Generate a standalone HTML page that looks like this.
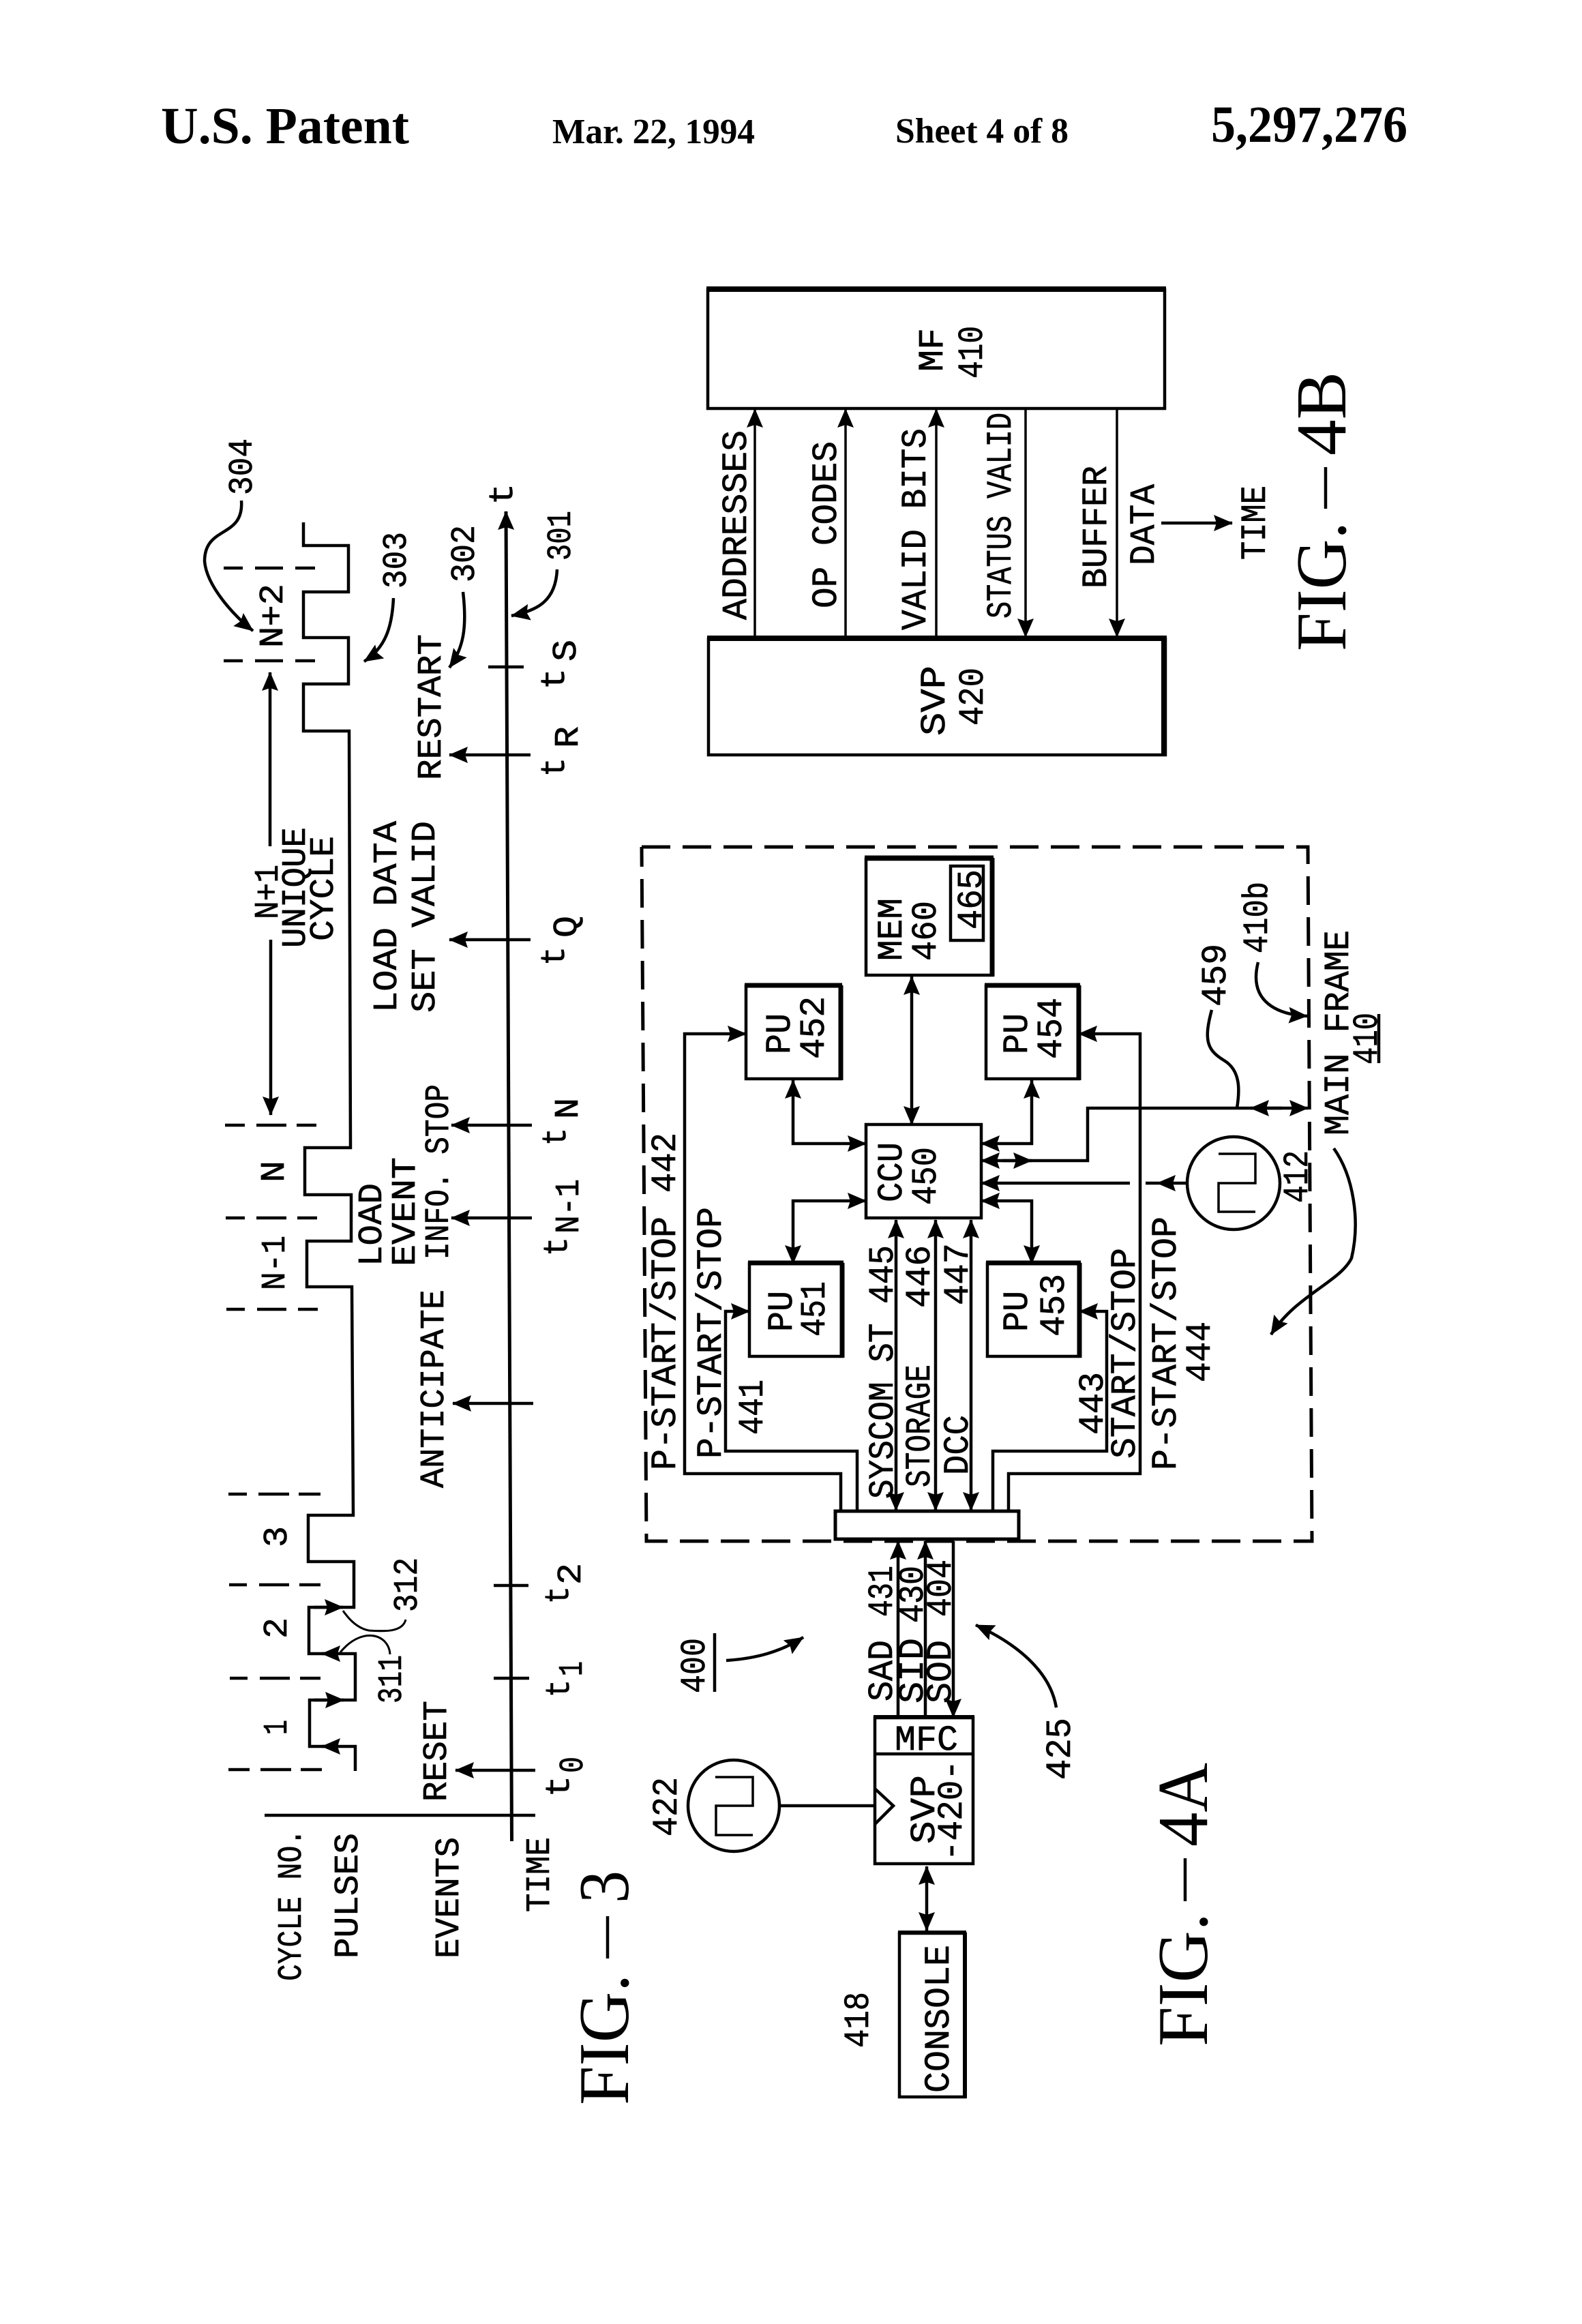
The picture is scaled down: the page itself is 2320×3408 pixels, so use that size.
<!DOCTYPE html>
<html><head><meta charset="utf-8"><style>
html,body{margin:0;padding:0;background:#fff}
svg{display:block}
text{font-family:"Liberation Mono",monospace;fill:#000;stroke:#000;stroke-width:.7}
text.h{font-family:"Liberation Serif",serif;font-weight:bold;stroke:none}
text.f{font-family:"Liberation Serif",serif;stroke:none}
.l{fill:none;stroke:#000;stroke-width:4.5}
.a{fill:none;stroke:#000;stroke-width:4.5;marker-end:url(#m)}
.d{fill:none;stroke:#000;stroke-width:4.5;marker-end:url(#m);marker-start:url(#m)}
.b{fill:#fff;stroke:#000;stroke-width:4.5}
</style></head><body>
<svg xmlns="http://www.w3.org/2000/svg" width="2320" height="3408" viewBox="0 0 2320 3408">
<defs><marker id="m" markerUnits="userSpaceOnUse" viewBox="0 0 28 24" refX="27" refY="12" markerWidth="28" markerHeight="24" orient="auto-start-reverse"><path d="M0 0L28 12L0 24L4 12Z" fill="#000"/></marker></defs>
<rect width="2320" height="3408" fill="#fff"/>

<!-- header -->
<text class="h" x="236" y="210" font-size="76" textLength="364" lengthAdjust="spacingAndGlyphs">U.S. Patent</text>
<text class="h" x="810" y="210" font-size="52" textLength="297" lengthAdjust="spacingAndGlyphs">Mar. 22, 1994</text>
<text class="h" x="1313" y="209" font-size="52" textLength="254" lengthAdjust="spacingAndGlyphs">Sheet 4 of 8</text>
<text class="h" x="1776" y="208" font-size="76" textLength="288" lengthAdjust="spacingAndGlyphs">5,297,276</text>

<!-- FIG 3 pulses -->
<polyline class="l" points="445,766 445,800 511,800 511,868 445,868 445,935 511,935 511,1003 445,1003 445,1072 512,1072 514,1683 447,1683 447,1752 515,1752 515,1820 450,1820 450,1887 516,1887 518,2222 452,2222 452,2290 519,2290 519,2357 453,2357 453,2425 521,2425 521,2493 454,2493 454,2561 521,2561 521,2597"/>
<path class="a" d="M460 2357H503"/><path class="a" d="M496 2425H472"/><path class="a" d="M460 2493H504"/><path class="a" d="M496 2561H472"/>
<!-- dashes -->
<g style="fill:none;stroke:#000;stroke-width:4.5">
<path d="M328 833H356M374 833H415M433 833H462"/>
<path d="M328 969H356M374 969H415M433 969H462"/>
<path d="M330 1650H359M376 1650H420M435 1650H464"/>
<path d="M331 1786H359M376 1786H420M436 1786H465"/>
<path d="M332 1920H359M377 1920H420M437 1920H466"/>
<path d="M335 2191H362M379 2191H424M438 2191H470"/>
<path d="M336 2324H362M380 2324H424M439 2324H470"/>
<path d="M337 2461H363M381 2461H425M440 2461H470"/>
<path d="M335 2595H366M382 2595H427M441 2595H472"/>
</g>
<!-- N+1 dimension arrow -->
<path class="a" d="M396 1241V986"/><path class="a" d="M397 1378V1635"/>
<!-- axis -->
<path class="a" style="stroke-width:5" d="M750.5 2700L742 750"/>
<path class="l" d="M716 978H768M724 2325H775M724 2461H776"/>
<path class="a" d="M778 1107H659"/><path class="a" d="M778 1378H659"/><path class="a" d="M780 1650H662"/><path class="a" d="M780 1786H662"/><path class="a" d="M782 2058H664"/><path class="a" d="M785 2596H668"/>
<path class="l" d="M388 2662H785"/>
<!-- fig 3 leaders -->
<path class="a" d="M354 734C358 790 300 770 300 823C303 860 345 905 371 925"/>
<path class="a" d="M577 877C575 920 565 950 534 970"/>
<path class="a" d="M679 868C685 920 680 950 659 979"/>
<path class="a" d="M817 835C815 880 790 895 750 903"/>
<path class="l" style="stroke-width:3" d="M595 2375C590 2395 560 2392 541 2391C525 2388 512 2375 503 2362"/>
<path class="l" style="stroke-width:3" d="M572 2426C570 2395 530 2385 499 2423"/>

<!-- fig 3 text -->
<g font-size="50">
<text transform="translate(369,726) rotate(-90)" textLength="83" lengthAdjust="spacingAndGlyphs">304</text>
<text transform="translate(414,950) rotate(-90)" textLength="94" lengthAdjust="spacingAndGlyphs">N+2</text>
<text transform="translate(595,863) rotate(-90)" textLength="83" lengthAdjust="spacingAndGlyphs">303</text>
<text transform="translate(695,854) rotate(-90)" textLength="84" lengthAdjust="spacingAndGlyphs">302</text>
<text transform="translate(836,822) rotate(-90)" textLength="73" lengthAdjust="spacingAndGlyphs">301</text>
<text transform="translate(751,740) rotate(-90)" textLength="31" lengthAdjust="spacingAndGlyphs">t</text>
<text transform="translate(827,1011) rotate(-90)" textLength="31" lengthAdjust="spacingAndGlyphs">t</text>
<text transform="translate(844,970) rotate(-90)" textLength="32" lengthAdjust="spacingAndGlyphs">S</text>
<text transform="translate(827,1139) rotate(-90)" textLength="28" lengthAdjust="spacingAndGlyphs">t</text>
<text transform="translate(847,1097) rotate(-90)" textLength="32" lengthAdjust="spacingAndGlyphs">R</text>
<text transform="translate(827,1416) rotate(-90)" textLength="28" lengthAdjust="spacingAndGlyphs">t</text>
<text transform="translate(845,1375) rotate(-90)" textLength="32" lengthAdjust="spacingAndGlyphs">Q</text>
<text transform="translate(829,1680) rotate(-90)" textLength="26" lengthAdjust="spacingAndGlyphs">t</text>
<text transform="translate(847,1641) rotate(-90)" textLength="31" lengthAdjust="spacingAndGlyphs">N</text>
<text transform="translate(831,1842) rotate(-90)" textLength="28" lengthAdjust="spacingAndGlyphs">t</text>
<text transform="translate(848,1809) rotate(-90)" textLength="80" lengthAdjust="spacingAndGlyphs">N-1</text>
<text transform="translate(833,2352) rotate(-90)" textLength="26" lengthAdjust="spacingAndGlyphs">t</text>
<text transform="translate(851,2324) rotate(-90)" textLength="32" lengthAdjust="spacingAndGlyphs">2</text>
<text transform="translate(834,2489) rotate(-90)" textLength="26" lengthAdjust="spacingAndGlyphs">t</text>
<text transform="translate(853,2458) rotate(-90)" textLength="22" lengthAdjust="spacingAndGlyphs">1</text>
<text transform="translate(834,2635) rotate(-90)" textLength="31" lengthAdjust="spacingAndGlyphs">t</text>
<text transform="translate(854,2600) rotate(-90)" textLength="24" lengthAdjust="spacingAndGlyphs">0</text>
<text transform="translate(646,1144) rotate(-90)" textLength="214" lengthAdjust="spacingAndGlyphs">RESTART</text>
<text transform="translate(581,1485) rotate(-90)" textLength="281" lengthAdjust="spacingAndGlyphs">LOAD DATA</text>
<text transform="translate(637,1485) rotate(-90)" textLength="281" lengthAdjust="spacingAndGlyphs">SET VALID</text>
<text transform="translate(407,1348) rotate(-90)" textLength="80" lengthAdjust="spacingAndGlyphs">N+1</text>
<text transform="translate(447,1390) rotate(-90)" textLength="177" lengthAdjust="spacingAndGlyphs">UNIQUE</text>
<text transform="translate(488,1380) rotate(-90)" textLength="154" lengthAdjust="spacingAndGlyphs">CYCLE</text>
<text transform="translate(416,1734) rotate(-90)" textLength="32" lengthAdjust="spacingAndGlyphs">N</text>
<text transform="translate(417,1892) rotate(-90)" textLength="80" lengthAdjust="spacingAndGlyphs">N-1</text>
<text transform="translate(559,1857) rotate(-90)" textLength="122" lengthAdjust="spacingAndGlyphs">LOAD</text>
<text transform="translate(608,1857) rotate(-90)" textLength="160" lengthAdjust="spacingAndGlyphs">EVENT</text>
<text transform="translate(657,1847) rotate(-90)" textLength="257" lengthAdjust="spacingAndGlyphs">INFO. STOP</text>
<text transform="translate(650,2182) rotate(-90)" textLength="291" lengthAdjust="spacingAndGlyphs">ANTICIPATE</text>
<text transform="translate(420,2269) rotate(-90)" textLength="31" lengthAdjust="spacingAndGlyphs">3</text>
<text transform="translate(420,2403) rotate(-90)" textLength="31" lengthAdjust="spacingAndGlyphs">2</text>
<text transform="translate(420,2544) rotate(-90)" textLength="22" lengthAdjust="spacingAndGlyphs">1</text>
<text transform="translate(611,2364) rotate(-90)" textLength="80" lengthAdjust="spacingAndGlyphs">312</text>
<text transform="translate(588,2498) rotate(-90)" textLength="71" lengthAdjust="spacingAndGlyphs">311</text>
<text transform="translate(654,2642) rotate(-90)" textLength="148" lengthAdjust="spacingAndGlyphs">RESET</text>
<text transform="translate(441,2905) rotate(-90)" textLength="223" lengthAdjust="spacingAndGlyphs">CYCLE NO.</text>
<text transform="translate(524,2872) rotate(-90)" textLength="184" lengthAdjust="spacingAndGlyphs">PULSES</text>
<text transform="translate(672,2872) rotate(-90)" textLength="178" lengthAdjust="spacingAndGlyphs">EVENTS</text>
<text transform="translate(805,2804) rotate(-90)" textLength="110" lengthAdjust="spacingAndGlyphs">TIME</text>
</g>

<!-- FIG titles -->
<g font-size="105">
<text class="f" transform="translate(921,3087) rotate(-90)" textLength="192" lengthAdjust="spacingAndGlyphs">FIG.</text>
<text class="f" transform="translate(921,2791) rotate(-90)" textLength="48" lengthAdjust="spacingAndGlyphs">3</text>
<text class="f" transform="translate(1770,3001) rotate(-90)" textLength="196" lengthAdjust="spacingAndGlyphs">FIG.</text>
<text class="f" transform="translate(1770,2708) rotate(-90)" textLength="123" lengthAdjust="spacingAndGlyphs">4A</text>
<text class="f" transform="translate(1973,955) rotate(-90)" textLength="190" lengthAdjust="spacingAndGlyphs">FIG.</text>
<text class="f" transform="translate(1973,668) rotate(-90)" textLength="123" lengthAdjust="spacingAndGlyphs">4B</text>
</g>
<path class="l" d="M891 2810V2872M1738 2725V2788M1944 685V746"/>

<!-- FIG 4A dashed box -->
<path class="l" style="stroke-width:5;stroke-dasharray:42 18" d="M941 1242H1918L1924 2260H948L941 1242"/>

<!-- boxes -->
<rect class="b" x="1270" y="1260" width="185" height="170"/><path class="l" style="stroke-width:7" d="M1268 1258H1457M1455 1258V1432"/>
<rect class="l" x="1394" y="1270" width="48" height="109"/>
<rect class="b" x="1094" y="1446" width="139" height="136"/><path class="l" style="stroke-width:7" d="M1092 1445H1235M1233 1445V1584"/>
<rect class="b" x="1446" y="1446" width="136" height="136"/><path class="l" style="stroke-width:7" d="M1444 1445H1584M1582 1445V1584"/>
<rect class="b" x="1270" y="1649" width="169" height="137"/>
<rect class="b" x="1099" y="1853" width="136" height="136"/><path class="l" style="stroke-width:7" d="M1097 1852H1237M1235 1852V1991"/>
<rect class="b" x="1448" y="1853" width="135" height="136"/><path class="l" style="stroke-width:7" d="M1446 1852H1585M1583 1852V1991"/>
<rect class="b" style="stroke-width:5" x="1225" y="2216" width="269" height="41"/>

<!-- connectors -->
<path class="d" d="M1337 1432V1649"/>
<path class="d" d="M1163 1584V1677H1270"/>
<path class="d" d="M1513 1584V1677H1439"/>
<path class="d" d="M1163 1853V1761H1270"/>
<path class="d" d="M1513 1853V1761H1439"/>
<path class="d" d="M1314 1789V2215"/><path class="d" d="M1372 1789V2215"/><path class="d" d="M1424 1789V2215"/>
<path class="a" d="M1233 2215V2161H1004V1516H1094"/>
<path class="a" d="M1257 2215V2128H1064V1923H1099"/>
<path class="a" d="M1456 2215V2128H1623V1923H1583"/>
<path class="a" d="M1479 2215V2161H1672V1516H1582"/>
<!-- 459 bus -->
<path class="a" d="M1834 1625H1918"/>
<path class="a" d="M1880 1625H1834"/>
<path class="a" d="M1834 1625H1595V1702H1439"/>
<path class="a" d="M1470 1702H1513"/>
<!-- clock 412 -->
<circle class="l" cx="1809" cy="1735" r="68"/>
<path class="l" style="stroke-width:3.5" d="M1787 1692H1841V1735H1787V1777H1841"/>
<path class="a" d="M1741 1735H1697"/><path class="a" d="M1657 1735H1439"/>
<path class="l" d="M1697 1735H1680"/>
<!-- curves -->
<path class="l" d="M1777 1481C1765 1525 1770 1540 1795 1555C1820 1570 1818 1600 1814 1625"/>
<path class="a" d="M1845 1411C1830 1470 1875 1488 1917 1490"/>
<path class="a" d="M1956 1684C1985 1725 1995 1790 1982 1845C1965 1880 1900 1900 1864 1957"/>

<!-- fig 4A text -->
<g font-size="52">
<text transform="translate(1322,1409) rotate(-90)" textLength="92" lengthAdjust="spacingAndGlyphs">MEM</text>
<text transform="translate(1372,1409) rotate(-90)" textLength="88" lengthAdjust="spacingAndGlyphs">460</text>
<text transform="translate(1439,1363) rotate(-90)" textLength="88" lengthAdjust="spacingAndGlyphs">465</text>
<text transform="translate(1158,1546) rotate(-90)" textLength="60" lengthAdjust="spacingAndGlyphs">PU</text>
<text transform="translate(1208,1553) rotate(-90)" textLength="92" lengthAdjust="spacingAndGlyphs">452</text>
<text transform="translate(1506,1546) rotate(-90)" textLength="60" lengthAdjust="spacingAndGlyphs">PU</text>
<text transform="translate(1556,1553) rotate(-90)" textLength="90" lengthAdjust="spacingAndGlyphs">454</text>
<text transform="translate(1322,1763) rotate(-90)" textLength="88" lengthAdjust="spacingAndGlyphs">CCU</text>
<text transform="translate(1372,1767) rotate(-90)" textLength="85" lengthAdjust="spacingAndGlyphs">450</text>
<text transform="translate(1161,1953) rotate(-90)" textLength="60" lengthAdjust="spacingAndGlyphs">PU</text>
<text transform="translate(1209,1960) rotate(-90)" textLength="81" lengthAdjust="spacingAndGlyphs">451</text>
<text transform="translate(1506,1953) rotate(-90)" textLength="60" lengthAdjust="spacingAndGlyphs">PU</text>
<text transform="translate(1560,1960) rotate(-90)" textLength="92" lengthAdjust="spacingAndGlyphs">453</text>
<text transform="translate(990,2156) rotate(-90)" textLength="372" lengthAdjust="spacingAndGlyphs">P-START/STOP</text>
<text transform="translate(990,1749) rotate(-90)" textLength="88" lengthAdjust="spacingAndGlyphs">442</text>
<text transform="translate(1057,2139) rotate(-90)" textLength="369" lengthAdjust="spacingAndGlyphs">P-START/STOP</text>
<text transform="translate(1118,2104) rotate(-90)" textLength="81" lengthAdjust="spacingAndGlyphs">441</text>
<text transform="translate(1309,2198) rotate(-90)" textLength="372" lengthAdjust="spacingAndGlyphs">SYSCOM ST 445</text>
<text transform="translate(1363,2181) rotate(-90)" textLength="180" lengthAdjust="spacingAndGlyphs">STORAGE</text>
<text transform="translate(1363,1918) rotate(-90)" textLength="92" lengthAdjust="spacingAndGlyphs">446</text>
<text transform="translate(1419,2163) rotate(-90)" textLength="88" lengthAdjust="spacingAndGlyphs">DCC</text>
<text transform="translate(1419,1914) rotate(-90)" textLength="91" lengthAdjust="spacingAndGlyphs">447</text>
<text transform="translate(1617,2104) rotate(-90)" textLength="92" lengthAdjust="spacingAndGlyphs">443</text>
<text transform="translate(1664,2139) rotate(-90)" textLength="309" lengthAdjust="spacingAndGlyphs">START/STOP</text>
<text transform="translate(1724,2156) rotate(-90)" textLength="372" lengthAdjust="spacingAndGlyphs">P-START/STOP</text>
<text transform="translate(1774,2027) rotate(-90)" textLength="89" lengthAdjust="spacingAndGlyphs">444</text>
<text transform="translate(1797,1476) rotate(-90)" textLength="92" lengthAdjust="spacingAndGlyphs">459</text>
<text transform="translate(1858,1398) rotate(-90)" textLength="105" lengthAdjust="spacingAndGlyphs">410b</text>
<text transform="translate(1917,1764) rotate(-90)" textLength="77" lengthAdjust="spacingAndGlyphs">412</text>
<text transform="translate(1977,1665) rotate(-90)" textLength="301" lengthAdjust="spacingAndGlyphs">MAIN FRAME</text>
<text transform="translate(2019,1561) rotate(-90)" textLength="76" lengthAdjust="spacingAndGlyphs">410</text>
<text transform="translate(1308,2495) rotate(-90)" textLength="90" lengthAdjust="spacingAndGlyphs">SAD</text>
<text transform="translate(1308,2371) rotate(-90)" textLength="75" lengthAdjust="spacingAndGlyphs">431</text>
<text transform="translate(1353,2498) rotate(-90)" textLength="96" lengthAdjust="spacingAndGlyphs">SID</text>
<text transform="translate(1353,2380) rotate(-90)" textLength="84" lengthAdjust="spacingAndGlyphs">430</text>
<text transform="translate(1394,2498) rotate(-90)" textLength="93" lengthAdjust="spacingAndGlyphs">SOD</text>
<text transform="translate(1394,2371) rotate(-90)" textLength="84" lengthAdjust="spacingAndGlyphs">404</text>
<text transform="translate(1033,2483) rotate(-90)" textLength="81" lengthAdjust="spacingAndGlyphs">400</text>
<text transform="translate(1569,2610) rotate(-90)" textLength="91" lengthAdjust="spacingAndGlyphs">425</text>
<text transform="translate(992,2693) rotate(-90)" textLength="87" lengthAdjust="spacingAndGlyphs">422</text>
<text transform="translate(1273,3003) rotate(-90)" textLength="82" lengthAdjust="spacingAndGlyphs">418</text>
</g>
<path class="l" d="M2022 1487V1559M1048 2395V2481"/>
<path class="a" d="M1065 2435C1110 2432 1145 2422 1178 2401"/>
<path class="a" d="M1549 2504C1540 2450 1490 2410 1431 2383"/>

<!-- SVP / console -->
<path class="a" d="M1317 2516V2260"/>
<path class="a" d="M1357 2516V2260"/>
<path class="a" d="M1398 2260V2518"/>
<rect class="b" x="1283" y="2519" width="144" height="214"/><path class="l" style="stroke-width:6" d="M1281 2518H1429"/>
<path class="l" d="M1283 2572H1427"/>
<path class="l" d="M1283 2623L1310 2648L1283 2675"/>
<text x="1312" y="2566" font-size="52" textLength="93" lengthAdjust="spacingAndGlyphs">MFC</text>
<text transform="translate(1370,2704) rotate(-90)" font-size="52" textLength="101" lengthAdjust="spacingAndGlyphs">SVP</text>
<text transform="translate(1410,2729) rotate(-90)" font-size="52" textLength="148" lengthAdjust="spacingAndGlyphs">-420-</text>
<circle class="l" cx="1076" cy="2648" r="67"/>
<path class="l" style="stroke-width:3.5" d="M1049 2606H1104V2648H1050V2691H1104"/>
<path class="l" d="M1144 2648H1283"/>
<path class="d" d="M1359 2737V2831"/>
<rect class="b" x="1319" y="2835" width="96" height="240"/><path class="l" style="stroke-width:6" d="M1317 2834H1417M1415 2834V3077"/>
<text transform="translate(1391,3069) rotate(-90)" font-size="52" textLength="217" lengthAdjust="spacingAndGlyphs">CONSOLE</text>

<!-- FIG 4B -->
<rect class="b" x="1038" y="425" width="670" height="174"/><path class="l" style="stroke-width:8" d="M1036 424H1710"/>
<rect class="b" x="1039" y="937" width="670" height="170"/><path class="l" style="stroke-width:8" d="M1037 936H1711M1707 936V1107"/>
<path class="a" style="stroke-width:3.5" d="M1107 932V600"/><path class="a" style="stroke-width:3.5" d="M1240 932V600"/><path class="a" style="stroke-width:3.5" d="M1373 932V600"/>
<path class="a" style="stroke-width:3.5" d="M1504 600V934"/><path class="a" style="stroke-width:3.5" d="M1638 600V934"/>
<path class="a" d="M1703 767H1807"/>
<g font-size="52">
<text transform="translate(1382,545) rotate(-90)" textLength="64" lengthAdjust="spacingAndGlyphs">MF</text>
<text transform="translate(1440,555) rotate(-90)" textLength="77" lengthAdjust="spacingAndGlyphs">410</text>
<text transform="translate(1094,909) rotate(-90)" textLength="278" lengthAdjust="spacingAndGlyphs">ADDRESSES</text>
<text transform="translate(1226,892) rotate(-90)" textLength="245" lengthAdjust="spacingAndGlyphs">OP CODES</text>
<text transform="translate(1357,924) rotate(-90)" textLength="296" lengthAdjust="spacingAndGlyphs">VALID BITS</text>
<text transform="translate(1482,907) rotate(-90)" textLength="302" lengthAdjust="spacingAndGlyphs">STATUS VALID</text>
<text transform="translate(1622,863) rotate(-90)" textLength="180" lengthAdjust="spacingAndGlyphs">BUFFER</text>
<text transform="translate(1692,829) rotate(-90)" textLength="119" lengthAdjust="spacingAndGlyphs">DATA</text>
<text transform="translate(1855,821) rotate(-90)" textLength="109" lengthAdjust="spacingAndGlyphs">TIME</text>
<text transform="translate(1385,1079) rotate(-90)" textLength="103" lengthAdjust="spacingAndGlyphs">SVP</text>
<text transform="translate(1441,1064) rotate(-90)" textLength="85" lengthAdjust="spacingAndGlyphs">420</text>
</g>
</svg>
</body></html>
